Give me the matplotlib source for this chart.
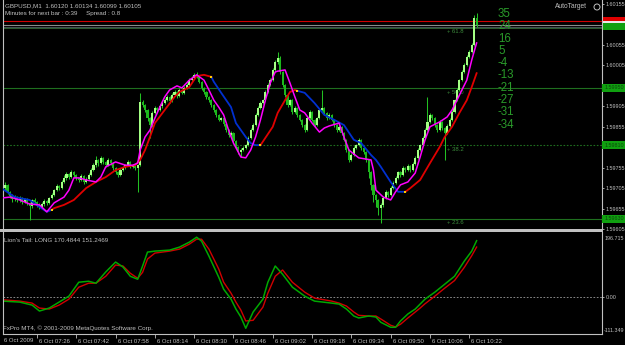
import matplotlib
matplotlib.use("Agg")
import matplotlib.pyplot as plt
import matplotlib.transforms as mtrans
from matplotlib.patches import Rectangle, Ellipse

# ===============================
# Data (GBPUSD M1, 6 Oct 2009 07:12 - 10:25)
# ===============================
opens = [
    1.59700, 1.59705, 1.59713, 1.59696, 1.59686, 1.59678, 1.59683, 1.59676, 1.59681, 1.59671,
    1.59678, 1.59669, 1.59661, 1.59676, 1.59671, 1.59664, 1.59659, 1.59666, 1.59674, 1.59669,
    1.59681, 1.59688, 1.59700, 1.59710, 1.59705, 1.59720, 1.59730, 1.59740, 1.59732, 1.59744,
    1.59737, 1.59730, 1.59725, 1.59735, 1.59720, 1.59727, 1.59737, 1.59749, 1.59761, 1.59774,
    1.59766, 1.59779, 1.59769, 1.59761, 1.59774, 1.59766, 1.59754, 1.59744, 1.59737, 1.59749,
    1.59754, 1.59761, 1.59769, 1.59757, 1.59759, 1.59754, 1.59761, 1.59916, 1.59908, 1.59896,
    1.59876, 1.59859, 1.59889, 1.59901, 1.59896, 1.59906, 1.59913, 1.59920, 1.59928, 1.59918,
    1.59933, 1.59940, 1.59930, 1.59945, 1.59938, 1.59950, 1.59957, 1.59969, 1.59974, 1.59982,
    1.59979, 1.59965, 1.59950, 1.59940, 1.59928, 1.59920, 1.59908, 1.59896, 1.59884, 1.59872,
    1.59876, 1.59862, 1.59847, 1.59835, 1.59840, 1.59820, 1.59806, 1.59793, 1.59798, 1.59803,
    1.59810, 1.59828, 1.59847, 1.59859, 1.59884, 1.59901, 1.59913, 1.59920, 1.59940, 1.59957,
    1.59969, 1.59994, 1.60013, 1.60023, 1.59989, 1.59957, 1.59933, 1.59908, 1.59920, 1.59891,
    1.59901, 1.59884, 1.59872, 1.59859, 1.59847, 1.59876, 1.59891, 1.59872, 1.59859, 1.59876,
    1.59896, 1.59901, 1.59889, 1.59876, 1.59884, 1.59872, 1.59859, 1.59847, 1.59855, 1.59840,
    1.59823, 1.59798, 1.59774, 1.59786, 1.59803, 1.59810, 1.59823, 1.59803, 1.59793, 1.59774,
    1.59744, 1.59713, 1.59688, 1.59676, 1.59656, 1.59664, 1.59681, 1.59696, 1.59688, 1.59705,
    1.59718, 1.59730, 1.59744, 1.59737, 1.59754, 1.59749, 1.59759, 1.59749, 1.59764, 1.59779,
    1.59798, 1.59810, 1.59828, 1.59847, 1.59867, 1.59884, 1.59876, 1.59859, 1.59847, 1.59867,
    1.59852, 1.59840, 1.59857, 1.59872, 1.59891, 1.59920, 1.59945, 1.59969, 1.59989, 1.60006,
    1.60026, 1.60038, 1.60055, 1.60120,
]
highs = [
    1.59749, 1.59720, 1.59716, 1.59699, 1.59690, 1.59688, 1.59686, 1.59685, 1.59684, 1.59682,
    1.59680, 1.59672, 1.59679, 1.59680, 1.59674, 1.59668, 1.59670, 1.59678, 1.59677, 1.59684,
    1.59693, 1.59704, 1.59715, 1.59713, 1.59724, 1.59736, 1.59745, 1.59743, 1.59749, 1.59747,
    1.59740, 1.59733, 1.59739, 1.59738, 1.59731, 1.59741, 1.59754, 1.59766, 1.59783, 1.59777,
    1.59784, 1.59782, 1.59772, 1.59778, 1.59776, 1.59769, 1.59757, 1.59747, 1.59753, 1.59758,
    1.59765, 1.59773, 1.59771, 1.59763, 1.59762, 1.59765, 1.59938, 1.59920, 1.59911, 1.59899,
    1.59880, 1.59893, 1.59906, 1.59904, 1.59910, 1.59917, 1.59925, 1.59933, 1.59931, 1.59937,
    1.59945, 1.59943, 1.59949, 1.59948, 1.59955, 1.59962, 1.59974, 1.59978, 1.59986, 1.59989,
    1.59982, 1.59968, 1.59953, 1.59943, 1.59931, 1.59923, 1.59911, 1.59899, 1.59887, 1.59880,
    1.59879, 1.59865, 1.59850, 1.59844, 1.59843, 1.59823, 1.59809, 1.59802, 1.59807, 1.59814,
    1.59832, 1.59851, 1.59863, 1.59888, 1.59905, 1.59917, 1.59924, 1.59944, 1.59962, 1.59974,
    1.59998, 1.60018, 1.60038, 1.60027, 1.59992, 1.59960, 1.59936, 1.59924, 1.59923, 1.59905,
    1.59904, 1.59887, 1.59875, 1.59862, 1.59880, 1.59895, 1.59894, 1.59875, 1.59880, 1.59900,
    1.59945, 1.59904, 1.59892, 1.59888, 1.59887, 1.59875, 1.59862, 1.59859, 1.59858, 1.59843,
    1.59826, 1.59801, 1.59790, 1.59807, 1.59814, 1.59827, 1.59826, 1.59806, 1.59796, 1.59777,
    1.59747, 1.59716, 1.59691, 1.59679, 1.59668, 1.59685, 1.59700, 1.59699, 1.59709, 1.59722,
    1.59734, 1.59748, 1.59747, 1.59758, 1.59757, 1.59763, 1.59762, 1.59768, 1.59783, 1.59802,
    1.59814, 1.59832, 1.59851, 1.59928, 1.59888, 1.59887, 1.59879, 1.59862, 1.59871, 1.59870,
    1.59855, 1.59861, 1.59876, 1.59895, 1.59924, 1.59949, 1.59973, 1.59993, 1.60010, 1.60030,
    1.60042, 1.60059, 1.60128, 1.60134,
]
lows = [
    1.59695, 1.59700, 1.59690, 1.59680, 1.59672, 1.59674, 1.59670, 1.59672, 1.59666, 1.59668,
    1.59664, 1.59627, 1.59657, 1.59667, 1.59660, 1.59654, 1.59655, 1.59662, 1.59664, 1.59666,
    1.59678, 1.59685, 1.59697, 1.59700, 1.59702, 1.59717, 1.59726, 1.59728, 1.59729, 1.59733,
    1.59726, 1.59720, 1.59722, 1.59716, 1.59717, 1.59724, 1.59734, 1.59746, 1.59757, 1.59760,
    1.59763, 1.59765, 1.59756, 1.59758, 1.59762, 1.59750, 1.59739, 1.59732, 1.59734, 1.59746,
    1.59751, 1.59758, 1.59753, 1.59754, 1.59750, 1.59696, 1.59758, 1.59903, 1.59891, 1.59870,
    1.59828, 1.59855, 1.59885, 1.59892, 1.59893, 1.59902, 1.59910, 1.59917, 1.59914, 1.59915,
    1.59930, 1.59926, 1.59927, 1.59934, 1.59935, 1.59947, 1.59954, 1.59966, 1.59971, 1.59975,
    1.59961, 1.59946, 1.59936, 1.59924, 1.59916, 1.59904, 1.59892, 1.59880, 1.59868, 1.59869,
    1.59858, 1.59843, 1.59831, 1.59832, 1.59816, 1.59802, 1.59789, 1.59781, 1.59795, 1.59800,
    1.59807, 1.59825, 1.59844, 1.59856, 1.59881, 1.59898, 1.59910, 1.59917, 1.59937, 1.59954,
    1.59966, 1.59990, 1.60009, 1.59985, 1.59953, 1.59929, 1.59904, 1.59905, 1.59887, 1.59888,
    1.59880, 1.59868, 1.59855, 1.59843, 1.59844, 1.59873, 1.59868, 1.59855, 1.59856, 1.59873,
    1.59893, 1.59885, 1.59872, 1.59873, 1.59868, 1.59855, 1.59843, 1.59844, 1.59836, 1.59819,
    1.59794, 1.59770, 1.59771, 1.59783, 1.59800, 1.59807, 1.59799, 1.59789, 1.59770, 1.59730,
    1.59700, 1.59670, 1.59660, 1.59640, 1.59620, 1.59660, 1.59678, 1.59684, 1.59685, 1.59702,
    1.59715, 1.59727, 1.59733, 1.59734, 1.59745, 1.59746, 1.59745, 1.59746, 1.59761, 1.59776,
    1.59795, 1.59807, 1.59825, 1.59844, 1.59864, 1.59872, 1.59855, 1.59843, 1.59844, 1.59848,
    1.59774, 1.59837, 1.59854, 1.59869, 1.59888, 1.59917, 1.59942, 1.59966, 1.59986, 1.60003,
    1.60023, 1.60035, 1.60052, 1.60099,
]
closes = [
    1.59705, 1.59713, 1.59696, 1.59686, 1.59678, 1.59683, 1.59676, 1.59681, 1.59671, 1.59678,
    1.59669, 1.59661, 1.59676, 1.59671, 1.59664, 1.59659, 1.59666, 1.59674, 1.59669, 1.59681,
    1.59688, 1.59700, 1.59710, 1.59705, 1.59720, 1.59730, 1.59740, 1.59732, 1.59744, 1.59737,
    1.59730, 1.59725, 1.59735, 1.59720, 1.59727, 1.59737, 1.59749, 1.59761, 1.59774, 1.59766,
    1.59779, 1.59769, 1.59761, 1.59774, 1.59766, 1.59754, 1.59744, 1.59737, 1.59749, 1.59754,
    1.59761, 1.59769, 1.59757, 1.59759, 1.59754, 1.59761, 1.59916, 1.59908, 1.59896, 1.59876,
    1.59859, 1.59889, 1.59901, 1.59896, 1.59906, 1.59913, 1.59920, 1.59928, 1.59918, 1.59933,
    1.59940, 1.59930, 1.59945, 1.59938, 1.59950, 1.59957, 1.59969, 1.59974, 1.59982, 1.59979,
    1.59965, 1.59950, 1.59940, 1.59928, 1.59920, 1.59908, 1.59896, 1.59884, 1.59872, 1.59876,
    1.59862, 1.59847, 1.59835, 1.59840, 1.59820, 1.59806, 1.59793, 1.59798, 1.59803, 1.59810,
    1.59828, 1.59847, 1.59859, 1.59884, 1.59901, 1.59913, 1.59920, 1.59940, 1.59957, 1.59969,
    1.59994, 1.60013, 1.60023, 1.59989, 1.59957, 1.59933, 1.59908, 1.59920, 1.59891, 1.59901,
    1.59884, 1.59872, 1.59859, 1.59847, 1.59876, 1.59891, 1.59872, 1.59859, 1.59876, 1.59896,
    1.59901, 1.59889, 1.59876, 1.59884, 1.59872, 1.59859, 1.59847, 1.59855, 1.59840, 1.59823,
    1.59798, 1.59774, 1.59786, 1.59803, 1.59810, 1.59823, 1.59803, 1.59793, 1.59774, 1.59744,
    1.59713, 1.59688, 1.59676, 1.59656, 1.59664, 1.59681, 1.59696, 1.59688, 1.59705, 1.59718,
    1.59730, 1.59744, 1.59737, 1.59754, 1.59749, 1.59759, 1.59749, 1.59764, 1.59779, 1.59798,
    1.59810, 1.59828, 1.59847, 1.59867, 1.59884, 1.59876, 1.59859, 1.59847, 1.59867, 1.59852,
    1.59840, 1.59857, 1.59872, 1.59891, 1.59920, 1.59945, 1.59969, 1.59989, 1.60006, 1.60026,
    1.60038, 1.60055, 1.60120, 1.60105,
]

# fast MA (magenta), sampled at bar indices
fast_idx = [0, 3, 7, 11, 15, 18, 21, 25, 27, 29, 31, 34, 38, 40, 42, 46, 50, 53, 55, 56,
            58, 60, 62, 64, 66, 68, 71, 73, 76, 79, 82, 84, 86, 88, 90, 92, 94, 97, 99, 101,
            103, 105, 107, 109, 111, 112, 115, 117, 119, 121, 123, 126, 129, 131, 133, 137, 139, 141, 145, 150,
            151, 152, 155, 158, 160, 162, 165, 168, 170, 172, 174, 178, 181, 183, 185, 187, 189, 191, 193]
fast_ma = [1.59681, 1.59683, 1.59676, 1.59666, 1.59664, 1.59647, 1.59669, 1.59683, 1.59700, 1.59730,
           1.59730, 1.59725, 1.59720, 1.59732, 1.59757, 1.59769, 1.59761, 1.59761, 1.59766, 1.59798,
           1.59830, 1.59847, 1.59876, 1.59903, 1.59928, 1.59945, 1.59955, 1.59950, 1.59969, 1.59982,
           1.59969, 1.59945, 1.59920, 1.59903, 1.59884, 1.59847, 1.59815, 1.59781, 1.59779, 1.59798,
           1.59830, 1.59872, 1.59920, 1.59962, 1.59989, 1.59991, 1.59994, 1.59962, 1.59928, 1.59896,
           1.59889, 1.59864, 1.59842, 1.59852, 1.59857, 1.59864, 1.59830, 1.59798, 1.59779, 1.59774,
           1.59749, 1.59700, 1.59683, 1.59676, 1.59696, 1.59713, 1.59720, 1.59742, 1.59781, 1.59823,
           1.59855, 1.59867, 1.59879, 1.59896, 1.59920, 1.59945, 1.59969, 1.60018, 1.60060]

# slow MA, blue while falling, red while rising
slow_idx = [0, 5, 11, 15, 18, 20, 21, 25, 29, 34, 38, 42, 46, 50, 54, 56, 58, 60, 62, 66,
            70, 72, 76, 79, 82, 85, 86, 89, 93, 95, 99, 101, 103, 105, 107, 110, 112, 115, 117, 119,
            120, 123, 127, 131, 135, 139, 143, 146, 150, 152, 154, 158, 161, 164, 166, 170, 174, 178, 180, 183,
            186, 189, 191, 193]
slow_ma = [1.59703, 1.59683, 1.59676, 1.59659, 1.59647, 1.59652, 1.59656, 1.59664, 1.59676, 1.59705,
           1.59720, 1.59732, 1.59749, 1.59757, 1.59761, 1.59774, 1.59798, 1.59830, 1.59864, 1.59896,
           1.59928, 1.59940, 1.59952, 1.59979, 1.59982, 1.59977, 1.59965, 1.59938, 1.59903, 1.59864,
           1.59830, 1.59815, 1.59810, 1.59810, 1.59828, 1.59855, 1.59889, 1.59920, 1.59940, 1.59945,
           1.59943, 1.59938, 1.59913, 1.59884, 1.59872, 1.59859, 1.59823, 1.59815, 1.59786, 1.59774,
           1.59757, 1.59720, 1.59696, 1.59696, 1.59705, 1.59725, 1.59766, 1.59806, 1.59830, 1.59855,
           1.59889, 1.59920, 1.59952, 1.59986]
slow_turns = [20, 85, 105, 120, 164]

# Lion's Tail oscillator
osc_idx = [0, 7, 12, 15, 19, 23, 25, 27, 31, 35, 38, 42, 46, 49, 52, 55, 57, 59, 62, 68,
           72, 76, 79, 81, 84, 88, 90, 93, 95, 97, 99, 102, 106, 108, 111, 114, 118, 123, 127, 134,
           137, 140, 143, 145, 149, 152, 154, 158, 160, 162, 165, 168, 170, 172, 176, 180, 184, 188, 191, 193]
osc_fast = [-12, -15, -24, -42, -33, -15, -6, 3, 45, 48, 42, 76, 106, 91, 63, 54, 94, 136, 139, 142,
            151, 166, 181, 169, 124, 60, 24, -6, -36, -60, -94, -45, -6, 45, 94, 69, 30, 3, -12, -18,
            -21, -36, -57, -63, -57, -60, -76, -91, -91, -72, -51, -36, -21, -6, 15, 39, 63, 109, 139, 170.4844]
osc_slow = [-8, -12, -18, -33, -36, -24, -15, -6, 30, 42, 42, 63, 97, 94, 72, 57, 75, 115, 133, 139,
            145, 160, 175, 175, 145, 85, 45, 12, -15, -39, -72, -70, -30, 12, 63, 82, 45, 15, -3, -12,
            -18, -27, -45, -55, -57, -57, -66, -85, -90, -82, -63, -45, -33, -20, 3, 27, 50, 90, 125, 151.2469]

# horizontal levels
ask_price = 1.60114
bid_price = 1.60105
fib_levels = [1.60097, 1.59950, 1.59810, 1.59630]
fib_names = ["61.8", "50.0", "38.2", "23.6"]
target_pips = [35, 24, 16, 5, -4, -13, -21, -27, -31, -34]

price_ticks = [1.60155, 1.60055, 1.60005, 1.59905, 1.59855, 1.59755, 1.59705, 1.59655, 1.59605]
time_idx = [14, 30, 46, 62, 78, 94, 110, 126, 142, 158, 174, 190]
time_labels = ["6 Oct 07:26", "6 Oct 07:42", "6 Oct 07:58", "6 Oct 08:14", "6 Oct 08:30",
               "6 Oct 08:46", "6 Oct 09:02", "6 Oct 09:18", "6 Oct 09:34", "6 Oct 09:50",
               "6 Oct 10:06", "6 Oct 10:22"]

# ===============================
# Frame
# ===============================
W, H = 625, 345
GREY = "#c0c0c0"
SCALE_FS = 3.85   # right-hand scale text, small enough to fit the margin
plt.rcParams["font.family"] = ["Liberation Sans", "DejaVu Sans"]

fig = plt.figure(figsize=(W / 100, H / 100), dpi=100, facecolor="black")


def px_box(x0, y0, x1, y1):
    return [x0 / W, 1 - y1 / H, (x1 - x0) / W, (y1 - y0) / H]


def ftext(x, y, s, **kw):
    kw.setdefault("color", GREY)
    kw.setdefault("fontsize", 4.5)
    kw.setdefault("va", "center")
    fig.text(x / W, 1 - y / H, s, **kw)


def frect(x0, y0, x1, y1, color):
    fig.add_artist(Rectangle((x0 / W, 1 - y1 / H), (x1 - x0) / W, (y1 - y0) / H,
                             transform=fig.transFigure, facecolor=color,
                             edgecolor="none", zorder=6))


XLIM = (0.16, 244.05)

# ---------- price panel ----------
ax = fig.add_axes(px_box(3, 0, 602, 229))
ax.set_facecolor("black")
ax.set_xlim(*XLIM)
ax.set_ylim(1.59605, 1.60165)

# levels
ax.axhline(ask_price, color="#d00000", lw=0.8)
ax.axhline(bid_price, color="#8a8a8a", lw=0.8)
ax.axhline(1.60100, color="#506060", lw=0.6)
ax.axhline(fib_levels[0], color="#2e5e2e", lw=0.7)
ax.axhline(fib_levels[1], color="#1f6f1f", lw=0.8)
ax.axhline(fib_levels[2], color="#1f6f1f", lw=0.8, ls=(0, (1.5, 1.5)))
ax.axhline(fib_levels[3], color="#1f6f1f", lw=0.8)
for lev, name in zip(fib_levels, fib_names):
    ax.text(181, lev - 0.00004, "+ " + name, color="#3c8c3c", fontsize=4.3, va="top")

# candles
idx = list(range(len(closes)))
ax.vlines(idx, lows, highs, color="#22c022", lw=0.75, zorder=2)
bodies = [max(abs(c - o), 0.000012) for o, c in zip(opens, closes)]
bottoms = [min(o, c) for o, c in zip(opens, closes)]
colors = ["#a4ff84" if c >= o else "#1cb81c" for o, c in zip(opens, closes)]
ax.bar(idx, bodies, bottom=bottoms, width=0.85, color=colors, lw=0, zorder=3)

# moving averages
bounds = [0] + slow_turns + [idx[-1]]
for k in range(len(bounds) - 1):
    a, b = bounds[k], bounds[k + 1]
    xs = [i for i in slow_idx if a <= i <= b]
    ys = [v for i, v in zip(slow_idx, slow_ma) if a <= i <= b]
    ax.plot(xs, ys, color="#0030d0" if k % 2 == 0 else "#e00000", lw=1.3, zorder=4)
turn_vals = [slow_ma[slow_idx.index(t)] for t in slow_turns]
ax.scatter(slow_turns, turn_vals, s=3, marker="s", color="#ffcc00", zorder=5, lw=0)
ax.plot(fast_idx, fast_ma, color="#ff00ff", lw=1.1, zorder=4)

# right price scale
ax.yaxis.tick_right()
ax.set_yticks(price_ticks)
ax.set_yticklabels([f"{p:.5f}" for p in price_ticks], fontsize=SCALE_FS, color=GREY)
ax.tick_params(axis="y", length=1.5, width=0.6, color=GREY, pad=1)
ax.set_xticks([])
for s in ("top", "bottom"):
    ax.spines[s].set_visible(False)
ax.spines["left"].set_color(GREY)
ax.spines["left"].set_linewidth(0.8)
ax.spines["right"].set_color(GREY)
ax.spines["right"].set_linewidth(0.8)

# price boxes on the scale
frect(603, 17, 625, 21, "#e00000")
frect(603, 21, 625, 23, "#e8e8e8")
frect(603, 23, 625, 30, "#10a010")
bt = mtrans.blended_transform_factory(ax.transAxes, ax.transData)
for lev in fib_levels[1:]:
    ax.text(1.0035, lev, f"{lev:.5f}", transform=bt, fontsize=SCALE_FS, color="#0a4a0a",
            va="center", clip_on=False,
            bbox=dict(boxstyle="square,pad=0.3", fc="#10a010", ec="none"))

# AutoTarget pip column
for k, n in enumerate(target_pips):
    ftext(498, 14 + 12.3 * k, str(n), color="#2a9a2a", fontsize=8.3)

ftext(5, 6, "GBPUSD,M1  1.60120 1.60134 1.60099 1.60105")
ftext(5, 14, "Minutes for next bar : 0:39     Spread : 0.8")
ftext(555, 7, "AutoTarget", fontsize=4.8)
fig.add_artist(Ellipse((597 / W, 1 - 7 / H), 6 / W, 6 / H, transform=fig.transFigure,
                       fc="none", ec=GREY, lw=0.7))

# separator
frect(0, 229, 603, 232, GREY)

# ---------- oscillator panel ----------
osc = fig.add_axes(px_box(3, 232, 602, 334))
osc.set_facecolor("black")
osc.set_xlim(*XLIM)
osc.set_ylim(-111.349, 196.715)
osc.axhline(0, color="#a0a0a0", lw=0.6, ls=(0, (2, 2)))
osc.plot(osc_idx, osc_slow, color="#d00000", lw=1.0)
osc.plot(osc_idx, osc_fast, color="#00a800", lw=1.1)

osc.yaxis.tick_right()
osc.set_yticks([0])
osc.set_yticklabels(["0.00"], fontsize=SCALE_FS, color=GREY)
osc.tick_params(axis="y", length=1.5, width=0.6, color=GREY, pad=1)
osc.set_xticks(time_idx)
osc.set_xticklabels(time_labels, ha="left")
osc.tick_params(axis="x", length=3, width=0.6, color=GREY, labelsize=4.3,
                labelcolor=GREY, pad=0.5)
off = mtrans.ScaledTranslation(2 / 100, 0, fig.dpi_scale_trans)
for lab in osc.get_xticklabels():
    lab.set_transform(lab.get_transform() + off)
osc.spines["top"].set_visible(False)
for s in ("left", "right", "bottom"):
    osc.spines[s].set_color(GREY)
    osc.spines[s].set_linewidth(0.8)

ftext(604.5, 238, "196.715", fontsize=SCALE_FS)
ftext(603.5, 331, "-111.349", fontsize=SCALE_FS)
ftext(4, 241, f"Lion's Tail: LONG {osc_fast[-1]:.4f} {osc_slow[-1]:.4f}")
ftext(3, 328, "FxPro MT4, \u00a9 2001-2009 MetaQuotes Software Corp.")
ftext(4, 340, "6 Oct 2009", fontsize=4.3)

fig.savefig("out.png", dpi=100, facecolor="black")
